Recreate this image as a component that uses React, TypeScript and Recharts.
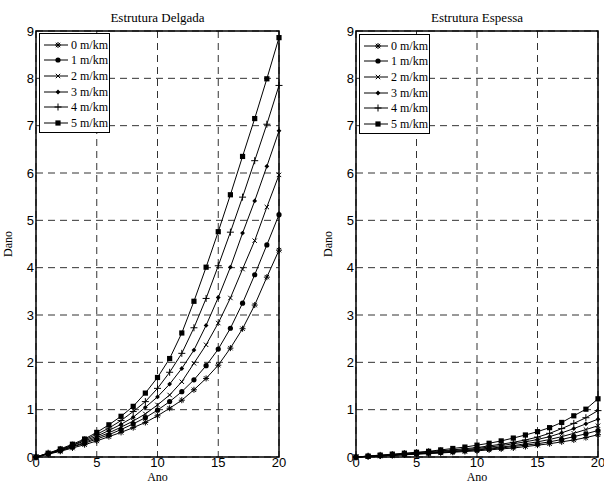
import { LineChart, Line, XAxis, YAxis, CartesianGrid, ReferenceArea } from 'recharts';

const anos = [0, 1, 2, 3, 4, 5, 6, 7, 8, 9, 10, 11, 12, 13, 14, 15, 16, 17, 18, 19, 20];
const series = ['0 m/km', '1 m/km', '2 m/km', '3 m/km', '4 m/km', '5 m/km'];

// Estrutura Delgada
const delgada0 = [0, 0.06, 0.12, 0.19, 0.26, 0.34, 0.43, 0.52, 0.62, 0.73, 0.87, 1.03, 1.2, 1.42, 1.66, 1.94, 2.3, 2.71, 3.21, 3.8, 4.37];
const delgada1 = [0, 0.065, 0.13, 0.21, 0.29, 0.38, 0.47, 0.58, 0.7, 0.83, 0.99, 1.17, 1.38, 1.63, 1.93, 2.28, 2.72, 3.25, 3.85, 4.48, 5.12];
const delgada2 = [0, 0.07, 0.14, 0.22, 0.31, 0.41, 0.51, 0.63, 0.76, 0.91, 1.1, 1.31, 1.59, 1.98, 2.37, 2.83, 3.36, 3.97, 4.57, 5.28, 5.96];
const delgada3 = [0, 0.075, 0.15, 0.24, 0.34, 0.44, 0.56, 0.69, 0.84, 1.05, 1.27, 1.54, 1.87, 2.26, 2.78, 3.37, 4.01, 4.73, 5.41, 6.14, 6.89];
const delgada4 = [0, 0.08, 0.16, 0.25, 0.36, 0.48, 0.61, 0.77, 0.96, 1.17, 1.45, 1.79, 2.19, 2.73, 3.35, 4.04, 4.75, 5.49, 6.26, 7.03, 7.85];
const delgada5 = [0, 0.08, 0.17, 0.27, 0.38, 0.52, 0.68, 0.86, 1.07, 1.35, 1.68, 2.08, 2.62, 3.29, 4.01, 4.76, 5.54, 6.35, 7.15, 7.99, 8.86];

// Estrutura Espessa
const espessa0 = [0, 0.01, 0.02, 0.03, 0.045, 0.06, 0.07, 0.085, 0.1, 0.115, 0.13, 0.15, 0.17, 0.19, 0.22, 0.25, 0.28, 0.32, 0.36, 0.41, 0.47];
const espessa1 = [0, 0.012, 0.024, 0.036, 0.05, 0.065, 0.08, 0.095, 0.11, 0.13, 0.15, 0.17, 0.19, 0.22, 0.25, 0.28, 0.32, 0.37, 0.43, 0.49, 0.56];
const espessa2 = [0, 0.013, 0.026, 0.04, 0.055, 0.07, 0.085, 0.1, 0.12, 0.14, 0.16, 0.185, 0.21, 0.24, 0.28, 0.32, 0.37, 0.43, 0.5, 0.58, 0.66];
const espessa3 = [0, 0.015, 0.03, 0.045, 0.06, 0.08, 0.095, 0.115, 0.135, 0.155, 0.18, 0.21, 0.24, 0.28, 0.32, 0.37, 0.43, 0.51, 0.6, 0.7, 0.8];
const espessa4 = [0, 0.017, 0.034, 0.05, 0.07, 0.09, 0.11, 0.13, 0.15, 0.175, 0.2, 0.235, 0.27, 0.31, 0.36, 0.42, 0.5, 0.6, 0.71, 0.83, 0.98];
const espessa5 = [0, 0.02, 0.04, 0.06, 0.08, 0.1, 0.12, 0.15, 0.18, 0.21, 0.25, 0.29, 0.34, 0.4, 0.465, 0.535, 0.62, 0.73, 0.87, 1.01, 1.23];

const xTicks = [0, 5, 10, 15, 20];
const yTicks = [0, 1, 2, 3, 4, 5, 6, 7, 8, 9];

const toRows = (cols: number[][]) =>
  anos.map((ano, i) => ({ ano, s0: cols[0][i], s1: cols[1][i], s2: cols[2][i], s3: cols[3][i], s4: cols[4][i], s5: cols[5][i] }));

const delgadaData = toRows([delgada0, delgada1, delgada2, delgada3, delgada4, delgada5]);
const espessaData = toRows([espessa0, espessa1, espessa2, espessa3, espessa4, espessa5]);

type Shape = 'star' | 'circle' | 'x' | 'diamond' | 'plus' | 'square';
const shapes: Shape[] = ['star', 'circle', 'x', 'diamond', 'plus', 'square'];

const Marker = ({ shape, cx, cy }: { shape: Shape; cx: number; cy: number }) => {
  const s = { stroke: '#000', strokeWidth: 1 };
  if (shape === 'circle') return <circle cx={cx} cy={cy} r={2.6} fill="#000" />;
  if (shape === 'square') return <rect x={cx - 2.6} y={cy - 2.6} width={5.2} height={5.2} fill="#000" />;
  if (shape === 'diamond') return <path d={`M${cx},${cy - 2.4}L${cx + 2.4},${cy}L${cx},${cy + 2.4}L${cx - 2.4},${cy}Z`} fill="#000" />;
  if (shape === 'plus')
    return (
      <g {...s}>
        <line x1={cx - 3.5} y1={cy} x2={cx + 3.5} y2={cy} />
        <line x1={cx} y1={cy - 3.5} x2={cx} y2={cy + 3.5} />
      </g>
    );
  if (shape === 'x')
    return (
      <g {...s}>
        <line x1={cx - 2.2} y1={cy - 2.2} x2={cx + 2.2} y2={cy + 2.2} />
        <line x1={cx - 2.2} y1={cy + 2.2} x2={cx + 2.2} y2={cy - 2.2} />
      </g>
    );
  return (
    <g {...s}>
      <line x1={cx - 3} y1={cy} x2={cx + 3} y2={cy} />
      <line x1={cx} y1={cy - 3} x2={cx} y2={cy + 3} />
      <line x1={cx - 2.2} y1={cy - 2.2} x2={cx + 2.2} y2={cy + 2.2} />
      <line x1={cx - 2.2} y1={cy + 2.2} x2={cx + 2.2} y2={cy - 2.2} />
    </g>
  );
};

const dotFor = (shape: Shape) => (p: any) => <Marker key={`${shape}-${p.index}`} shape={shape} cx={p.cx} cy={p.cy} />;

const tickStyle = { fontFamily: '"Liberation Sans", Arial, sans-serif', fontSize: 13, fill: '#000' };
const serif = '"Liberation Serif", "Times New Roman", serif';

const DanoLabel = (props: any) => {
  const { viewBox } = props;
  const x = viewBox.x - 4;
  const y = viewBox.y + viewBox.height / 2;
  return (
    <text x={x} y={y} transform={`rotate(-90 ${x} ${y})`} textAnchor="middle" fontFamily={serif} fontSize={12} fill="#000">
      Dano
    </text>
  );
};

const Legenda = ({ left, top }: { left: number; top: number }) => (
  <div style={{ position: 'absolute', left, top, width: 69, height: 95, border: '1.5px solid #000', background: '#fff', paddingTop: 3 }}>
    {series.map((name, i) => (
      <div key={name} style={{ display: 'flex', alignItems: 'center', height: 15.6 }}>
        <svg width={28} height={12} style={{ marginLeft: 2 }}>
          <line x1={2} y1={6} x2={26} y2={6} stroke="#000" strokeWidth={1} />
          <Marker shape={shapes[i]} cx={16} cy={6} />
        </svg>
        <span style={{ fontFamily: serif, fontSize: 12, marginLeft: 1, lineHeight: '12px' }}>{name}</span>
      </div>
    ))}
  </div>
);

const Painel = ({ data, margin, width }: { data: any[]; margin: any; width: number }) => (
  <LineChart width={width} height={485} data={data} margin={margin}>
    <CartesianGrid stroke="#333" strokeDasharray="7 5" strokeWidth={1} />
    <XAxis
      dataKey="ano"
      type="number"
      domain={[0, 20]}
      ticks={xTicks}
      height={28}
      axisLine={false}
      tickLine={false}
      tickSize={0}
      tickMargin={1}
      tick={tickStyle}
      interval={0}
      label={{ value: 'Ano', position: 'insideBottom', offset: 4, style: { fontFamily: serif, fontSize: 12, fill: '#000' } }}
    />
    <YAxis
      type="number"
      domain={[0, 9]}
      ticks={yTicks}
      width={20}
      axisLine={false}
      tickLine={false}
      tickSize={0}
      tickMargin={2}
      tick={tickStyle}
      interval={0}
      label={<DanoLabel />}
    />
    {shapes.map((shape, i) => (
      <Line
        key={shape}
        dataKey={`s${i}`}
        type="linear"
        stroke="#000"
        strokeWidth={1}
        dot={dotFor(shape)}
        activeDot={false}
        isAnimationActive={false}
      />
    ))}
    <ReferenceArea x1={0} x2={20} y1={0} y2={9} fill="none" stroke="#000" strokeWidth={1.5} />
  </LineChart>
);

export default function App() {
  return (
    <div style={{ position: 'absolute', left: 0, top: 0, width: 604, height: 485, background: '#fff', overflow: 'hidden' }}>
      <div style={{ position: 'absolute', left: 0, top: 0 }}>
        <Painel data={delgadaData} width={290} margin={{ top: 31, right: 11, bottom: 0, left: 16 }} />
      </div>
      <div style={{ position: 'absolute', left: 300, top: 0 }}>
        <Painel data={espessaData} width={304} margin={{ top: 31, right: 6, bottom: 0, left: 36 }} />
      </div>
      <div style={{ position: 'absolute', left: 36, width: 243, top: 10, textAlign: 'center', fontFamily: serif, fontSize: 13 }}>
        Estrutura Delgada
      </div>
      <div style={{ position: 'absolute', left: 356, width: 242, top: 10, textAlign: 'center', fontFamily: serif, fontSize: 13 }}>
        Estrutura Espessa
      </div>
      <Legenda left={39} top={33} />
      <Legenda left={359} top={34} />
    </div>
  );
}
